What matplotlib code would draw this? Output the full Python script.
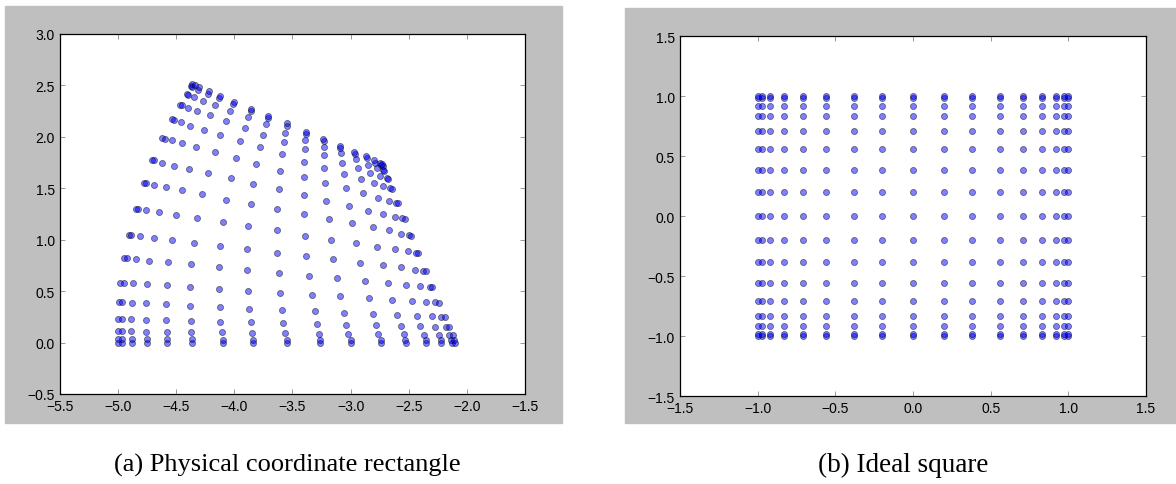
import numpy as np
import matplotlib
matplotlib.use('Agg')
from matplotlib import pyplot as plt
from matplotlib.patches import Rectangle

plt.rcParams['font.family'] = ['Liberation Sans', 'DejaVu Sans']

# ideal square: node positions (same in xi and eta)
xi_nodes = [-1.0, -0.97, -0.92, -0.83, -0.71, -0.56, -0.38, -0.2, 0.0,
            0.2, 0.38, 0.56, 0.71, 0.83, 0.92, 0.97, 1.0]
eta_nodes = [-1.0, -0.98, -0.92, -0.83, -0.71, -0.56, -0.38, -0.2, 0.0,
             0.2, 0.38, 0.56, 0.71, 0.83, 0.92, 0.98, 1.0]

# physical rectangle: one row per eta node, bottom row first
phys_x = [
    [-5.00, -4.97, -4.88, -4.75, -4.58, -4.36, -4.10, -3.84, -3.55, -3.26, -3.00, -2.74, -2.52, -2.35, -2.22, -2.13, -2.10],
    [-5.00, -4.97, -4.88, -4.75, -4.58, -4.36, -4.10, -3.84, -3.55, -3.26, -3.00, -2.74, -2.53, -2.35, -2.22, -2.14, -2.11],
    [-5.00, -4.97, -4.89, -4.76, -4.58, -4.37, -4.11, -3.85, -3.56, -3.27, -3.02, -2.76, -2.54, -2.37, -2.24, -2.15, -2.12],
    [-5.00, -4.97, -4.89, -4.76, -4.59, -4.37, -4.12, -3.86, -3.58, -3.29, -3.04, -2.78, -2.57, -2.40, -2.27, -2.18, -2.15],
    [-4.99, -4.97, -4.88, -4.76, -4.59, -4.38, -4.12, -3.87, -3.59, -3.31, -3.06, -2.81, -2.60, -2.43, -2.30, -2.22, -2.19],
    [-4.98, -4.95, -4.87, -4.75, -4.58, -4.38, -4.13, -3.88, -3.61, -3.33, -3.09, -2.84, -2.64, -2.47, -2.35, -2.27, -2.24],
    [-4.95, -4.92, -4.85, -4.73, -4.57, -4.37, -4.13, -3.89, -3.62, -3.36, -3.12, -2.88, -2.68, -2.52, -2.40, -2.32, -2.30],
    [-4.91, -4.89, -4.81, -4.69, -4.54, -4.35, -4.12, -3.89, -3.63, -3.38, -3.15, -2.92, -2.72, -2.57, -2.45, -2.38, -2.35],
    [-4.85, -4.83, -4.76, -4.65, -4.50, -4.32, -4.10, -3.88, -3.63, -3.39, -3.17, -2.95, -2.77, -2.62, -2.51, -2.44, -2.42],
    [-4.78, -4.76, -4.69, -4.59, -4.45, -4.28, -4.07, -3.86, -3.63, -3.40, -3.19, -2.99, -2.81, -2.67, -2.57, -2.50, -2.48],
    [-4.71, -4.69, -4.62, -4.52, -4.39, -4.23, -4.03, -3.84, -3.62, -3.40, -3.21, -3.01, -2.85, -2.72, -2.62, -2.56, -2.53],
    [-4.62, -4.60, -4.54, -4.45, -4.33, -4.17, -3.99, -3.81, -3.61, -3.40, -3.22, -3.04, -2.89, -2.76, -2.67, -2.61, -2.59],
    [-4.54, -4.52, -4.46, -4.38, -4.26, -4.12, -3.95, -3.78, -3.59, -3.40, -3.23, -3.06, -2.91, -2.80, -2.72, -2.66, -2.64],
    [-4.47, -4.45, -4.40, -4.32, -4.21, -4.07, -3.91, -3.75, -3.57, -3.39, -3.23, -3.07, -2.94, -2.83, -2.75, -2.69, -2.68],
    [-4.41, -4.40, -4.35, -4.27, -4.17, -4.04, -3.88, -3.73, -3.56, -3.39, -3.23, -3.08, -2.95, -2.85, -2.77, -2.72, -2.71],
    [-4.37, -4.36, -4.31, -4.23, -4.13, -4.01, -3.86, -3.71, -3.55, -3.38, -3.23, -3.09, -2.96, -2.86, -2.79, -2.74, -2.72],
    [-4.36, -4.34, -4.30, -4.22, -4.12, -4.00, -3.86, -3.71, -3.55, -3.38, -3.24, -3.09, -2.97, -2.87, -2.80, -2.75, -2.73],
]
phys_y = [
    [0.00, 0.00, 0.00, 0.00, 0.00, 0.00, 0.00, 0.00, 0.00, 0.00, 0.00, 0.00, 0.00, 0.00, 0.00, 0.00, 0.00],
    [0.03, 0.03, 0.03, 0.03, 0.03, 0.03, 0.02, 0.02, 0.02, 0.02, 0.02, 0.02, 0.02, 0.02, 0.02, 0.02, 0.02],
    [0.11, 0.11, 0.11, 0.10, 0.10, 0.10, 0.10, 0.09, 0.09, 0.08, 0.08, 0.08, 0.08, 0.07, 0.07, 0.07, 0.07],
    [0.23, 0.23, 0.23, 0.22, 0.22, 0.21, 0.20, 0.20, 0.19, 0.18, 0.17, 0.17, 0.16, 0.16, 0.15, 0.15, 0.15],
    [0.39, 0.39, 0.38, 0.38, 0.37, 0.36, 0.35, 0.33, 0.32, 0.31, 0.29, 0.28, 0.27, 0.26, 0.26, 0.25, 0.25],
    [0.58, 0.58, 0.58, 0.57, 0.56, 0.54, 0.52, 0.50, 0.48, 0.46, 0.45, 0.43, 0.41, 0.40, 0.39, 0.39, 0.38],
    [0.82, 0.82, 0.81, 0.79, 0.78, 0.76, 0.73, 0.71, 0.68, 0.65, 0.63, 0.60, 0.58, 0.56, 0.55, 0.54, 0.54],
    [1.05, 1.05, 1.04, 1.02, 1.00, 0.97, 0.94, 0.91, 0.87, 0.84, 0.81, 0.77, 0.75, 0.73, 0.71, 0.70, 0.70],
    [1.30, 1.30, 1.29, 1.27, 1.24, 1.21, 1.17, 1.13, 1.09, 1.04, 1.00, 0.97, 0.93, 0.91, 0.89, 0.87, 0.87],
    [1.55, 1.55, 1.53, 1.51, 1.48, 1.44, 1.39, 1.35, 1.30, 1.25, 1.20, 1.16, 1.12, 1.09, 1.06, 1.05, 1.04],
    [1.77, 1.77, 1.75, 1.72, 1.69, 1.65, 1.60, 1.54, 1.49, 1.43, 1.38, 1.33, 1.28, 1.25, 1.22, 1.21, 1.20],
    [1.99, 1.98, 1.97, 1.94, 1.90, 1.85, 1.79, 1.74, 1.67, 1.61, 1.55, 1.50, 1.45, 1.41, 1.38, 1.36, 1.36],
    [2.17, 2.16, 2.14, 2.11, 2.07, 2.02, 1.96, 1.90, 1.83, 1.76, 1.70, 1.64, 1.59, 1.55, 1.52, 1.50, 1.49],
    [2.31, 2.31, 2.28, 2.25, 2.21, 2.15, 2.09, 2.02, 1.95, 1.88, 1.82, 1.75, 1.70, 1.65, 1.62, 1.60, 1.59],
    [2.42, 2.41, 2.39, 2.35, 2.31, 2.25, 2.19, 2.12, 2.04, 1.97, 1.90, 1.84, 1.78, 1.73, 1.70, 1.68, 1.67],
    [2.49, 2.48, 2.46, 2.42, 2.38, 2.32, 2.25, 2.18, 2.11, 2.03, 1.96, 1.89, 1.83, 1.79, 1.75, 1.73, 1.72],
    [2.51, 2.50, 2.48, 2.45, 2.40, 2.34, 2.27, 2.20, 2.13, 2.05, 1.98, 1.91, 1.85, 1.81, 1.77, 1.75, 1.74],
]

left_xticks = [-5.5, -5.0, -4.5, -4.0, -3.5, -3.0, -2.5, -2.0, -1.5]
left_yticks = [-0.5, 0.0, 0.5, 1.0, 1.5, 2.0, 2.5, 3.0]
right_ticks = [-1.5, -1.0, -0.5, 0.0, 0.5, 1.0, 1.5]

captions = ['(a) Physical coordinate rectangle', '(b) Ideal square']


def style_axes(ax):
    ax.tick_params(direction='in', top=True, right=True, length=3.5,
                   width=0.6, color='#888888', labelsize=10, pad=3.5)
    for sp in ax.spines.values():
        sp.set_linewidth(0.9)
        sp.set_color('black')


fig = plt.figure(figsize=(11.76, 4.85), dpi=100, facecolor='white')

# grey backgrounds of the two original figures, kept behind the axes
fig.patches.append(Rectangle((0.0043, 0.1258), 0.4736, 0.8598,
                             transform=fig.transFigure, color='#bfbfbf', zorder=-10))
fig.patches.append(Rectangle((0.5315, 0.1258), 0.4685, 0.8557,
                             transform=fig.transFigure, color='#bfbfbf', zorder=-10))

ax1 = fig.add_axes([0.0510, 0.1856, 0.3954, 0.7423])
ax1.scatter(np.array(phys_x).ravel(), np.array(phys_y).ravel(), s=19,
            c='b', alpha=0.5, edgecolors='k', linewidths=0.6)
ax1.set_xlim(-5.5, -1.5)
ax1.set_ylim(-0.5, 3.0)
ax1.set_xticks(left_xticks)
ax1.set_yticks(left_yticks)
style_axes(ax1)

gx, gy = np.meshgrid(xi_nodes, eta_nodes)
ax2 = fig.add_axes([0.5782, 0.1814, 0.3963, 0.7423])
ax2.scatter(gx.ravel(), gy.ravel(), s=19, c='b', alpha=0.5,
            edgecolors='k', linewidths=0.6)
ax2.set_xlim(-1.5, 1.5)
ax2.set_ylim(-1.5, 1.5)
ax2.set_xticks(right_ticks)
ax2.set_yticks(right_ticks)
style_axes(ax2)

fig.text(0.244, 0.041, captions[0], ha='center', va='center', fontsize=19,
         family=['Liberation Serif', 'DejaVu Serif'])
fig.text(0.768, 0.041, captions[1], ha='center', va='center', fontsize=19.5,
         family=['Liberation Serif', 'DejaVu Serif'])

fig.savefig('out.png', dpi=100, facecolor='white')
